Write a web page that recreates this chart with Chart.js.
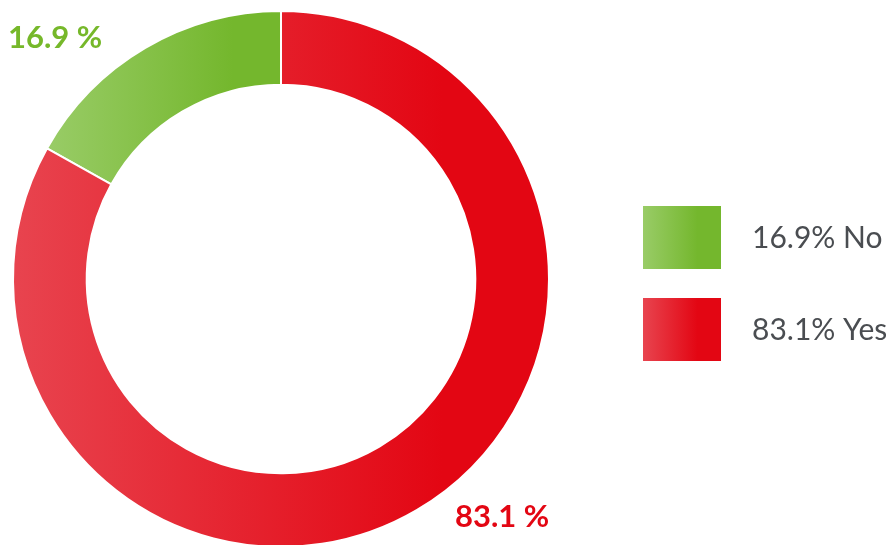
<!DOCTYPE html>
<html>
<head>
<meta charset="utf-8">
<script src="https://cdn.jsdelivr.net/npm/chart.js@4"></script>
<style>
  html, body { margin:0; padding:0; background:#fff; overflow:hidden; }
  #wrap { position:relative; width:886px; height:560px; }
</style>
</head>
<body>
<div id="wrap"><canvas id="c"></canvas></div>
<script>
const labels = ['No', 'Yes'];
const values = [16.9, 83.1];
const lightColors = ['#99cc67', '#e8444f'];
const darkColors  = ['#74b72d', '#e30613'];
const labelColors = ['#76b82a', '#e30613'];

const total = values.reduce((a, b) => a + b, 0);
const rotation = -values[0] / total * 360;

// x extent of an arc segment, angles clockwise from top (deg)
function segBounds(i, cx, r) {
  let start = rotation;
  for (let k = 0; k < i; k++) start += values[k] / total * 360;
  const end = start + values[i] / total * 360;
  let minX = Infinity, maxX = -Infinity;
  for (let t = start; t <= end; t += 0.5) {
    const x = cx + r * Math.sin(t * Math.PI / 180);
    minX = Math.min(minX, x); maxX = Math.max(maxX, x);
  }
  return [minX, maxX];
}

function segGradient(c) {
  const ch = c.chart, a = ch.chartArea;
  if (!a) return lightColors[c.dataIndex];
  const cx = (a.left + a.right) / 2;
  const r = Math.min(a.right - a.left, a.bottom - a.top) / 2;
  const [x0, x1] = segBounds(c.dataIndex, cx, r);
  const g = ch.ctx.createLinearGradient(x0, 0, x0 + (x1 - x0) * 0.8, 0);
  g.addColorStop(0, lightColors[c.dataIndex]);
  g.addColorStop(1, darkColors[c.dataIndex]);
  return g;
}

const decor = {
  id: 'decor',
  afterDraw(chart) {
    const ctx = chart.ctx, a = chart.chartArea;
    const cx = (a.left + a.right) / 2, cy = (a.top + a.bottom) / 2;
    ctx.save();
    // value labels outside the ring
    ctx.textBaseline = 'alphabetic';
    ctx.textAlign = 'left';
    ctx.font = 'bold 31px Lato, "Open Sans", sans-serif';
    const spots = [[cx - 273, cy - 231], [cx + 174, cy + 248]];
    values.forEach((v, i) => {
      ctx.fillStyle = labelColors[i];
      ctx.fillText(v.toFixed(1) + ' %', spots[i][0], spots[i][1]);
    });
    // legend
    const bx = 643, bw = 78, bh = 63, tops = [206, 298];
    ctx.font = '30px Lato, "Open Sans", sans-serif';
    labels.forEach((l, i) => {
      const g = ctx.createLinearGradient(bx, 0, bx + bw * 0.7, 0);
      g.addColorStop(0, lightColors[i]);
      g.addColorStop(1, darkColors[i]);
      ctx.fillStyle = g;
      ctx.fillRect(bx, tops[i], bw, bh);
      ctx.fillStyle = '#4a4d51';
      ctx.fillText(values[i].toFixed(1) + '% ' + l, 752, tops[i] + 42);
    });
    ctx.restore();
  }
};

new Chart(document.getElementById('c'), {
  type: 'doughnut',
  data: {
    labels: labels,
    datasets: [{
      data: values,
      backgroundColor: segGradient,
      borderColor: '#ffffff',
      borderWidth: 2
    }]
  },
  options: {
    responsive: true,
    maintainAspectRatio: false,
    animation: false,
    rotation: rotation,
    cutout: '72.5%',
    layout: { padding: { left: 12, top: 10, right: 336, bottom: 12 } },
    plugins: { legend: { display: false }, tooltip: { enabled: false } }
  },
  plugins: [decor]
});
</script>
</body>
</html>
